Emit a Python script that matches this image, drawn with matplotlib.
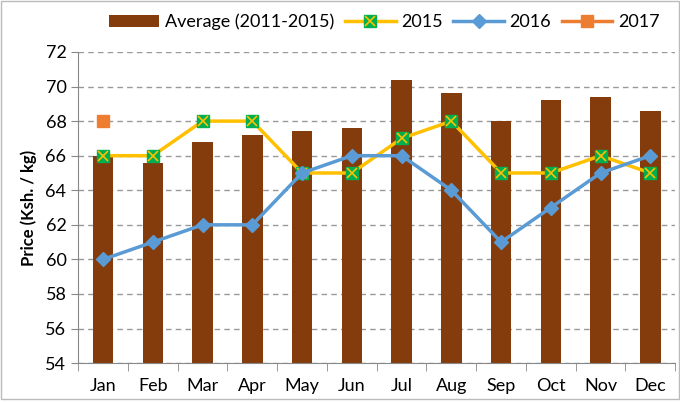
import numpy as np
import matplotlib
matplotlib.use("Agg")
import matplotlib.pyplot as plt
from matplotlib.patches import Rectangle
from matplotlib.lines import Line2D

plt.rcParams["font.family"] = ["Lato", "DejaVu Sans"]

months = ["Jan", "Feb", "Mar", "Apr", "May", "Jun",
          "Jul", "Aug", "Sep", "Oct", "Nov", "Dec"]
avg_2011_2015 = [66.0, 65.6, 66.8, 67.2, 67.4, 67.6, 70.4, 69.6, 68.0, 69.2, 69.4, 68.6]
price_2015 = [66, 66, 68, 68, 65, 65, 67, 68, 65, 65, 66, 65]
price_2016 = [60, 61, 62, 62, 65, 66, 66, 64, 61, 63, 65, 66]
price_2017 = [68]

BAR_C = "#843C0C"
C15 = "#FFC000"
C15_MK = "#00B050"
C16 = "#5B9BD5"
C17 = "#ED7D31"

fig = plt.figure(figsize=(6.8, 4.03), dpi=100)
ax = fig.add_axes([0.115, 0.099, 0.878, 0.772])
x = np.arange(len(months))

ax.bar(x, np.array(avg_2011_2015) - 54, bottom=54, width=0.41, color=BAR_C,
       label="Average (2011-2015)", zorder=2)
ax.plot(x, price_2015, color=C15, lw=2.5, marker="s", ms=9,
        markerfacecolor=C15_MK, markeredgecolor=C15_MK, zorder=3, label="2015")
ax.plot(x, price_2015, ls="none", marker="x", ms=7, mew=1.2,
        color=C15, zorder=4)
ax.plot(x, price_2016, color=C16, lw=2.5, marker="D", ms=7,
        markerfacecolor=C16, markeredgecolor=C16, zorder=5, label="2016")
ax.plot(x[:len(price_2017)], price_2017, color=C17, lw=2.5, marker="s", ms=8,
        markerfacecolor=C17, markeredgecolor=C17, zorder=5, label="2017")

ax.set_xlim(-0.5, 11.5)
ax.set_ylim(54, 72)
ax.set_yticks(range(54, 73, 2))
ax.set_xticks(x)
ax.set_xticklabels(months, fontsize=13)
ax.set_xticks(np.arange(-0.5, 12, 1), minor=True)
ax.tick_params(axis="x", which="major", length=0, pad=11)
ax.tick_params(axis="x", which="minor", length=6, color="#888888", direction="out")
ax.tick_params(axis="y", length=5, color="#888888", labelsize=13)
ax.grid(axis="y", ls=(0, (4, 3)), color="#999999", lw=1, zorder=0)
for s in ["top", "right"]:
    ax.spines[s].set_visible(False)
for s in ["left", "bottom"]:
    ax.spines[s].set_color("#888888")
ax.set_ylabel("Price (Ksh. / kg)", fontsize=12, fontweight="bold", labelpad=6)

handles, labels = ax.get_legend_handles_labels()
h15 = (Line2D([], [], color=C15, lw=2.5, marker="s", ms=9,
              markerfacecolor=C15_MK, markeredgecolor=C15_MK),
       Line2D([], [], ls="none", marker="x", ms=7, mew=1.2, color=C15))
hs = [handles[3], h15, handles[1], handles[2]]
ls_ = [labels[3], labels[0], labels[1], labels[2]]
fig.legend(hs, ls_, loc="center", bbox_to_anchor=(0.565, 0.945), ncol=4,
           frameon=False, fontsize=13, handlelength=2.8, columnspacing=0.6,
           handletextpad=0.3)

fig.patches.append(Rectangle((0.002, 0.01), 0.996, 0.987, transform=fig.transFigure,
                             fill=False, edgecolor="#BBBBBB", lw=1))

fig.savefig("out.png", dpi=100)
